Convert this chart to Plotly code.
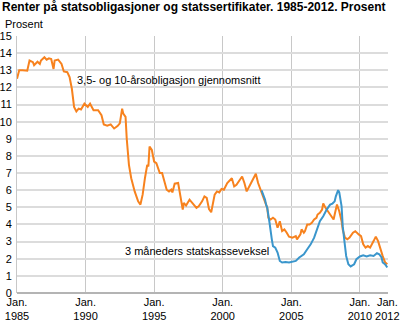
import plotly.graph_objects as go

# Orange: 3,5- og 10-årsobligasjon gjennomsnitt
bond_dates = [
    "1985-01", "1985-03", "1985-06", "1985-10", "1985-12", "1986-03", "1986-04", "1986-07",
    "1986-09", "1986-10", "1987-01", "1987-03", "1987-05", "1987-07", "1987-09", "1987-10",
    "1988-01", "1988-04", "1988-06", "1988-09", "1988-11", "1989-01", "1989-03", "1989-05",
    "1989-07", "1989-09", "1989-12", "1990-03", "1990-05", "1990-08", "1990-12", "1991-03",
    "1991-05", "1991-08", "1991-11", "1992-02", "1992-05", "1992-07", "1992-09", "1992-10",
    "1992-12", "1993-01", "1993-03", "1993-05", "1993-08", "1993-09", "1993-11", "1994-01",
    "1994-03", "1994-05", "1994-07", "1994-08", "1994-09", "1994-11", "1995-01", "1995-03",
    "1995-04", "1995-06", "1995-08", "1995-10", "1995-12", "1996-02", "1996-04", "1996-05",
    "1996-07", "1996-10", "1996-12", "1997-02", "1997-03", "1997-05", "1997-08", "1997-10",
    "1997-12", "1998-02", "1998-04", "1998-07", "1998-09", "1998-11", "1999-01", "1999-03",
    "1999-06", "1999-08", "1999-10", "1999-12", "2000-02", "2000-05", "2000-09", "2000-11",
    "2001-01", "2001-03", "2001-06", "2001-08", "2001-10", "2002-01", "2002-03", "2002-06",
    "2002-08", "2002-10", "2002-11", "2003-02", "2003-04", "2003-05", "2003-07", "2003-09",
    "2003-11", "2004-01", "2004-03", "2004-05", "2004-07", "2004-09", "2004-11", "2005-02",
    "2005-05", "2005-06", "2005-09", "2005-10", "2005-12", "2006-01", "2006-03", "2006-05",
    "2006-07", "2006-09", "2006-11", "2006-12", "2007-02", "2007-04", "2007-05", "2007-07",
    "2007-09", "2007-11", "2008-02", "2008-03", "2008-05", "2008-07", "2008-09", "2008-10",
    "2008-12", "2009-02", "2009-04", "2009-07", "2009-09", "2009-12", "2010-02", "2010-04",
    "2010-06", "2010-08", "2010-10", "2011-01", "2011-03", "2011-05", "2011-07", "2011-08",
    "2011-09", "2011-11", "2012-01",
]
bond_values = [
    12.5, 13.0, 13.0, 12.97, 13.57, 13.47, 13.3, 13.5,
    13.37, 13.57, 13.76, 13.62, 13.7, 13.66, 13.08, 13.57,
    13.62, 13.37, 12.93, 12.89, 12.6, 11.92, 10.86, 10.6,
    10.76, 10.71, 11.05, 10.86, 11.05, 10.67, 10.67, 10.38,
    9.84, 9.76, 9.84, 9.6, 9.74, 9.9, 10.76, 10.47,
    10.28, 9.02, 7.48, 6.7, 5.93, 5.74, 5.35, 5.16,
    5.74, 6.7, 7.48, 7.38, 8.54, 8.35, 7.67, 7.58,
    7.38, 7.0, 7.0, 6.51, 6.03, 5.93, 6.03, 5.87,
    6.38, 6.42, 5.74, 4.87, 5.26, 5.1, 5.45, 5.29,
    5.16, 4.97, 5.06, 5.35, 5.64, 5.55, 4.9, 4.71,
    5.74, 5.93, 5.87, 6.07, 6.03, 6.42, 6.7, 6.22,
    6.32, 6.51, 6.8, 6.42, 5.93, 6.32, 6.61, 6.96,
    6.42, 6.07, 5.93, 5.35, 4.97, 4.39, 4.29, 4.39,
    4.29, 3.81, 4.19, 3.61, 3.71, 3.52, 3.29, 3.23,
    3.32, 3.13, 3.42, 3.71, 3.52, 3.61, 4.0, 4.0,
    4.1, 4.29, 4.39, 4.58, 4.68, 4.87, 5.22, 4.97,
    4.77, 4.58, 4.29, 4.58, 5.16, 4.77, 4.19, 3.71,
    3.23, 3.13, 3.23, 3.52, 3.61, 3.42, 3.32, 2.84,
    2.65, 2.74, 2.65, 3.03, 3.29, 3.03, 2.55, 2.4,
    2.15, 1.8, 1.68,
]

# Blue: 3 måneders statskasseveksel
bill_dates = [
    "2002-11", "2003-02", "2003-03", "2003-04", "2003-06", "2003-07", "2003-08", "2003-09",
    "2003-11", "2004-01", "2004-03", "2004-05", "2004-08", "2004-11", "2005-02", "2005-05",
    "2005-08", "2005-12", "2006-03", "2006-06", "2006-09", "2006-11", "2007-02", "2007-05",
    "2007-08", "2007-11", "2008-01", "2008-03", "2008-04", "2008-06", "2008-07", "2008-09",
    "2008-10", "2008-12", "2009-01", "2009-03", "2009-05", "2009-08", "2009-10", "2010-01",
    "2010-04", "2010-07", "2010-10", "2011-01", "2011-04", "2011-06", "2011-08", "2011-09",
    "2011-11", "2012-01",
]
bill_values = [
    5.99, 5.45, 5.16, 4.97, 4.1, 3.52, 3.13, 2.74,
    2.65, 2.36, 1.87, 1.78, 1.81, 1.78, 1.81, 1.87,
    2.07, 2.26, 2.55, 2.84, 3.23, 3.61, 4.19, 4.48,
    4.87, 5.16, 5.22, 5.35, 5.64, 6.0, 5.87, 5.06,
    3.9, 2.74, 2.16, 1.68, 1.55, 1.68, 1.97, 2.13,
    2.2, 2.13, 2.2, 2.16, 2.32, 2.26, 2.07, 1.78,
    1.68, 1.49,
]

x_tick_vals = ["1985-01-01", "1990-01-01", "1995-01-01", "2000-01-01",
               "2005-01-01", "2010-01-01", "2012-01-01"]
x_tick_text = ["Jan.<br>1985", "Jan.<br>1990", "Jan.<br>1995", "Jan.<br>2000",
               "Jan.<br>2005", "Jan.<br>2010", "Jan.<br>2012"]
y_tick_vals = list(range(0, 16))

title_text = "Renter på statsobligasjoner og statssertifikater. 1985-2012. Prosent"
bond_label = "3,5- og 10-årsobligasjon gjennomsnitt"
bill_label = "3 måneders statskasseveksel"

ORANGE = "#f7821e"
BLUE = "#3a96cc"
FONT = "Liberation Sans, Arial, sans-serif"

fig = go.Figure()
fig.add_trace(go.Scatter(x=bond_dates, y=bond_values, mode="lines",
                         line=dict(color=ORANGE, width=2), name=bond_label,
                         hoverinfo="skip"))
fig.add_trace(go.Scatter(x=bill_dates, y=bill_values, mode="lines",
                         line=dict(color=BLUE, width=2), name=bill_label,
                         hoverinfo="skip"))

fig.update_layout(
    width=401, height=323,
    margin=dict(l=17, r=13, t=36, b=30),
    paper_bgcolor="white", plot_bgcolor="white",
    showlegend=False,
    font=dict(family=FONT, size=11, color="#000"),
    xaxis=dict(
        type="date", automargin=False,
        range=["1985-01-01", "2012-01-20"],
        tickvals=x_tick_vals, ticktext=x_tick_text, tickangle=0,
        showgrid=True, gridcolor="#c8c8c8", gridwidth=1,
        showline=False, zeroline=False,
        ticks="", ticklabelstandoff=1, tickfont=dict(size=11, family=FONT),
    ),
    yaxis=dict(
        range=[0, 15], automargin=False,
        tickvals=y_tick_vals,
        showgrid=True, gridcolor="#dcdcdc", gridwidth=1.5,
        showline=True, linecolor="#c8c8c8", linewidth=1,
        zeroline=True, zerolinecolor="#b4b4b4", zerolinewidth=2,
        ticks="", ticklabelstandoff=2, tickfont=dict(size=11, family=FONT),
    ),
    annotations=[
        dict(text="<b>" + title_text + "</b>", xref="paper", yref="paper",
             x=-17/371, y=1 + 29/257, xanchor="left", yanchor="middle",
             showarrow=False, font=dict(size=12, family=FONT)),
        dict(text="Prosent", xref="paper", yref="paper",
             x=-14/371, y=1 + 12/257, xanchor="left", yanchor="middle",
             showarrow=False, font=dict(size=11, family=FONT)),
        dict(text=bond_label, x="1989-04-01", y=12.44, xanchor="left",
             yanchor="middle", showarrow=False, font=dict(size=11, family=FONT)),
        dict(text=bill_label, x="1992-10-05", y=2.46, xanchor="left",
             yanchor="middle", showarrow=False, font=dict(size=11, family=FONT)),
    ],
)

fig.write_html("out.html")
